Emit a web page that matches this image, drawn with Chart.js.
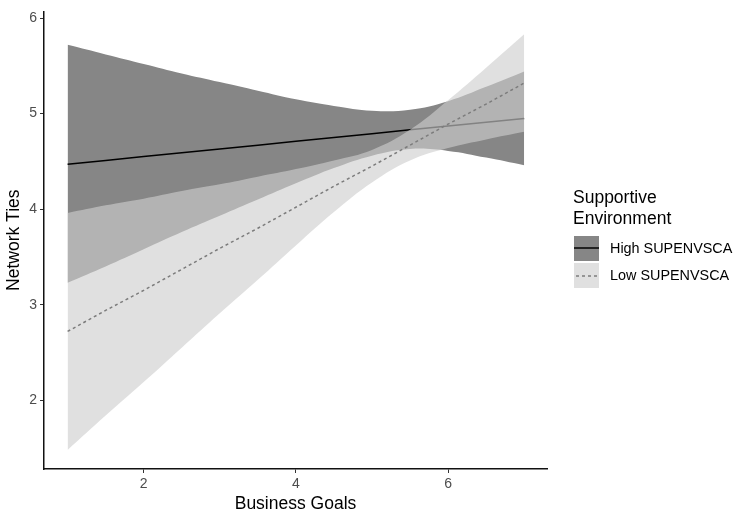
<!DOCTYPE html>
<html>
<head>
<meta charset="utf-8">
<script src="https://cdn.jsdelivr.net/npm/chart.js@4.4.0/dist/chart.umd.min.js"></script>
<style>
  html, body { margin: 0; padding: 0; background: #fff; }
</style>
</head>
<body>
<canvas id="chart" width="735" height="513"></canvas>
<script>
// values
const goals     = [1, 1.5, 2, 2.5, 3, 3.5, 4, 4.5, 5, 5.5, 6, 6.5, 7];
const highMean  = [4.47, 4.51, 4.55, 4.59, 4.63, 4.67, 4.71, 4.75, 4.79, 4.83, 4.87, 4.91, 4.95];
const highUpper = [5.72, 5.62, 5.52, 5.42, 5.33, 5.24, 5.15, 5.08, 5.03, 5.04, 5.13, 5.28, 5.44];
const highLower = [3.23, 3.40, 3.58, 3.76, 3.93, 4.10, 4.27, 4.43, 4.56, 4.63, 4.61, 4.54, 4.46];
const lowMean   = [2.72, 2.94, 3.15, 3.37, 3.59, 3.80, 4.02, 4.24, 4.45, 4.67, 4.89, 5.10, 5.32];
const lowUpper  = [3.96, 4.04, 4.11, 4.19, 4.26, 4.34, 4.42, 4.51, 4.62, 4.83, 5.14, 5.48, 5.83];
const lowLower  = [1.48, 1.84, 2.19, 2.55, 2.91, 3.26, 3.62, 3.97, 4.28, 4.51, 4.64, 4.73, 4.81];
const xTicks = [2, 4, 6];
const yTicks = [2, 3, 4, 5, 6];
const legendTitle = ['Supportive', 'Environment'];
const groups = ['High SUPENVSCA', 'Low SUPENVSCA'];

const FONT = '"Liberation Sans", Arial, Helvetica, sans-serif';
const highFill = '#868686';
const lowFill = 'rgba(206,206,206,0.63)';
const lowLine = '#7c7c7c';

const pts = ys => goals.map((x, i) => ({ x, y: ys[i] }));

function band(data, fill, order, color) {
    return {
        data, order,
        fill: fill ? '+1' : false,
        backgroundColor: color || 'transparent',
        borderColor: 'transparent',
        borderWidth: 0,
        pointRadius: 0,
        tension: 0.4
    };
}

// draws the ggplot-style legend to the right of the panel
const legendBox = {
    id: 'legendBox',
    afterDraw(chart) {
        const ctx = chart.ctx;
        ctx.save();
        ctx.fillStyle = '#000';
        ctx.font = '17.5px ' + FONT;
        ctx.textBaseline = 'alphabetic';
        ctx.fillText(legendTitle[0], 573, 203);
        ctx.fillText(legendTitle[1], 573, 224);

        // high key
        ctx.fillStyle = highFill;
        ctx.fillRect(574, 236, 25, 25);
        ctx.strokeStyle = '#000';
        ctx.lineWidth = 1.5;
        ctx.beginPath(); ctx.moveTo(574, 248); ctx.lineTo(599, 248); ctx.stroke();
        // low key
        ctx.fillStyle = '#e0e0e0';
        ctx.fillRect(574, 263, 25, 25);
        ctx.strokeStyle = lowLine;
        ctx.setLineDash([3, 3]);
        ctx.beginPath(); ctx.moveTo(576, 276); ctx.lineTo(599, 276); ctx.stroke();
        ctx.setLineDash([]);

        ctx.fillStyle = '#000';
        ctx.font = '14.4px ' + FONT;
        ctx.textBaseline = 'middle';
        ctx.fillText(groups[0], 610, 249);
        ctx.fillText(groups[1], 610, 276);
        ctx.restore();
    }
};

const axisCommon = {
    type: 'linear',
    grid: { display: true, drawOnChartArea: false, drawTicks: true, tickLength: 4, color: '#333', lineWidth: 1 },
    border: { display: true, color: '#111', width: 1.5 },
    ticks: { color: '#4d4d4d', font: { family: FONT, size: 14 }, padding: 3 }
};

new Chart(document.getElementById('chart'), {
    type: 'line',
    data: {
        datasets: [
            band(pts(highUpper), true, 6, highFill),
            band(pts(highLower), false, 5),
            { data: pts(highMean), order: 4, borderColor: '#000', borderWidth: 1.5, pointRadius: 0, fill: false },
            band(pts(lowUpper), true, 3, lowFill),
            band(pts(lowLower), false, 2),
            { data: pts(lowMean), order: 1, borderColor: lowLine, borderWidth: 1.5, borderDash: [3, 3], pointRadius: 0, fill: false }
        ]
    },
    options: {
        responsive: false,
        animation: false,
        layout: { padding: { top: 8, right: 188, bottom: 0, left: 0 } },
        plugins: { legend: { display: false }, tooltip: { enabled: false } },
        scales: {
            x: {
                ...axisCommon,
                min: 0.69, max: 7.3,
                afterBuildTicks: s => { s.ticks = xTicks.map(v => ({ value: v })); },
                afterFit: s => { s.height = 44; },
                title: { display: true, text: 'Business Goals', color: '#000', font: { family: FONT, size: 17.5 }, padding: { top: 0, bottom: -2 } }
            },
            y: {
                ...axisCommon,
                min: 1.28, max: 6.07,
                afterBuildTicks: s => { s.ticks = yTicks.map(v => ({ value: v })); },
                afterFit: s => { s.width = 44; },
                title: { display: true, text: 'Network Ties', color: '#000', font: { family: FONT, size: 17.5 }, padding: { top: 4, bottom: 0 } }
            }
        }
    },
    plugins: [legendBox]
});
</script>
</body>
</html>
